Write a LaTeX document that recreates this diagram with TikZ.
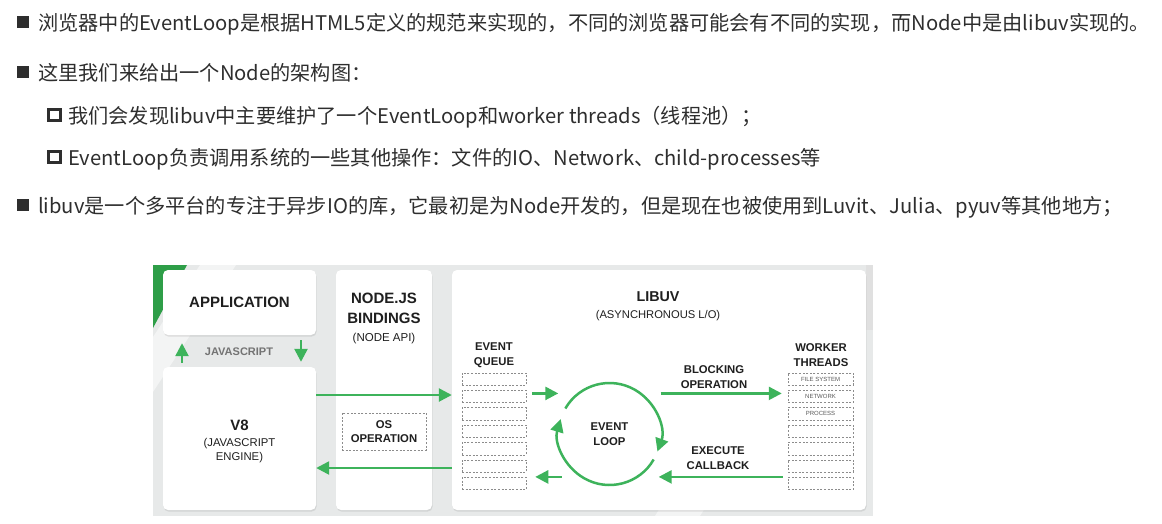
\documentclass[tikz,border=0pt]{standalone}
\usepackage{fontspec}
\setmainfont{Liberation Sans}
\newfontfamily\cjk{Noto Sans CJK SC}
\usetikzlibrary{arrows.meta,positioning,shadows}
\definecolor{lvgreen}{HTML}{3DB35B}
\definecolor{cornergreen}{HTML}{2E9E48}
\definecolor{bggray}{HTML}{E7E9E9}
\definecolor{ink}{HTML}{2E2E2E}

\begin{document}
\begin{tikzpicture}[x=1pt,y=-1pt,
  para/.style={font=\cjk\fontsize{20.2}{24}\selectfont,text=ink,anchor=base west,inner sep=0pt},
  box/.style={fill=white,rounded corners=5pt,drop shadow={shadow xshift=.6pt,shadow yshift=-1.6pt,opacity=.2}},
  slot/.style={draw=black!45,dash pattern=on 2pt off 1.6pt,line width=.5pt,minimum width=64pt,minimum height=12.5pt,inner sep=0pt},
  flow/.style={color=lvgreen,line width=2.5pt,-{Triangle[length=13pt,width=13pt]}},
  big/.style={font=\bfseries\fontsize{15}{20}\selectfont,align=center,inner sep=0pt,text=black!88},
  head/.style={font=\bfseries\fontsize{11.3}{15}\selectfont,align=center,inner sep=0pt,text=black!88},
  note/.style={font=\fontsize{11.3}{14}\selectfont,align=center,inner sep=0pt,text=black!88},
  wlabel/.style={font=\fontsize{6}{7}\selectfont,text=black!65}]
\useasboundingbox (0,0) rectangle (1162,523);

\fill[ink] (17,16) rectangle (29,28);
\fill[ink] (17,66) rectangle (29,78);
\draw[ink,line width=3pt] (48.5,109.5) rectangle (60.5,120.5);
\draw[ink,line width=3pt] (48.5,151.5) rectangle (60.5,162.5);
\fill[ink] (17,199) rectangle (29,211);
\node[para] (l1) at (38,30) {浏览器中的EventLoop是根据HTML5定义的规范来实现的，不同的浏览器可能会有不同的实现，而Node中是由libuv实现的。};
\node[para] (l2) at (38,80) {这里我们来给出一个Node的架构图：};
\node[para] (l3) at (68,123) {我们会发现libuv中主要维护了一个EventLoop和worker threads（线程池）；};
\node[para] (l4) at (68,165) {EventLoop负责调用系统的一些其他操作：文件的IO、Network、child-processes等};
\node[para] (l5) at (38,213) {libuv是一个多平台的专注于异步IO的库，它最初是为Node开发的，但是现在也被使用到Luvit、Julia、pyuv等其他地方；};

\fill[bggray] (153,265) rectangle (873,516);
\fill[white,opacity=.5] (200,265) -- (236,265) -- (153,392) -- (153,337) -- cycle;
\fill[white,opacity=.5] (700,516) -- (655,516) -- (690,460) -- (735,460) -- cycle;
\fill[black!12] (873,265) -- (873,330) -- (866,330) -- (866,265) -- cycle;
\fill[cornergreen] (153,265) -- (187,265) -- (153,328) -- cycle;

\node[box,big,minimum width=153pt,minimum height=65pt] (app) at (239.5,302.5) {APPLICATION};
\node[box,minimum width=153pt,minimum height=143pt] (veight) at (239.5,438.5) {};
\node[box,minimum width=96pt,minimum height=240pt] (bind) at (384,390) {};
\node[box,minimum width=414pt,minimum height=240pt] (libuv) at (659,390) {};

\node[head,text=black!55,font=\bfseries\fontsize{11}{13}\selectfont] (js) at (239,352) {JAVASCRIPT};
\node[big] (v8t) at (239.5,425) {V8};
\node[note,below=8pt of v8t] (v8s) {(JAVASCRIPT\\ENGINE)};
\node[big] (bindt) at (384,308) {NODE.JS\\BINDINGS};
\node[note,font=\fontsize{11.5}{14}\selectfont,below=9pt of bindt] (binds) {(NODE API)};
\node[slot,head,font=\bfseries\fontsize{11.3}{14}\selectfont,minimum width=84pt,minimum height=37pt] (osop) at (384,431.5) {OS\\OPERATION};
\node[big,font=\bfseries\fontsize{14.3}{18}\selectfont] (uvt) at (658,297) {LIBUV};
\node[note,font=\fontsize{11.2}{14}\selectfont,below=8pt of uvt] (uvs) {(ASYNCHRONOUS L/O)};

\node[head] (qt) at (494,355.5) {EVENT\\QUEUE};
\node[head] (wt) at (821,355.5) {WORKER\\THREADS};
\foreach \i in {0,...,6}
  \node[slot] (q\i) at (494,379+17.4*\i) {};
\foreach \i/\t in {0/FILE SYSTEM,1/NETWORK,2/PROCESS,3/,4/,5/,6/}
  \node[slot,wlabel,minimum width=65pt] (w\i) at (820.5,379+17.4*\i) {\t};

\node[head,circle,minimum size=102pt] (loop) at (609.5,434) {EVENT\\LOOP};
\node[head] (blk) at (714,377) {BLOCKING\\OPERATION};
\node[head] (exe) at (718,458) {EXECUTE\\CALLBACK};

\draw[flow] (loop.center) ++(-150:51) arc[start angle=-150,end angle=20,radius=51];
\draw[flow] (loop.center) ++(30:51) arc[start angle=30,end angle=197,radius=51];

\coordinate (jsout) at ([yshift=43.5pt]veight.east);
\coordinate (jsin) at ([yshift=-29.5pt]veight.east);
\coordinate (qi) at ([yshift=3pt]q1.east);
\coordinate (qo) at ([yshift=6.5pt]q6.east);
\coordinate (bo) at ([yshift=3pt]w1.west);
\coordinate (eo) at ([yshift=6.5pt]w6.west);
\path[flow]
  ([xshift=-57.5pt]veight.north) edge[shorten <=4pt,shorten >=8pt] ([xshift=-57.5pt]app.south)
  ([xshift=61.5pt]app.south) edge[shorten <=5pt,shorten >=5pt] ([xshift=61.5pt]veight.north)
  (jsout) edge (jsout -| libuv.west)
  (jsin -| libuv.west) edge (jsin)
  (qi) edge[shorten <=6pt] (qi -| loop.west)
  (qo -| loop.west) edge[shorten <=-3.5pt,shorten >=9pt] (qo)
  (bo -| loop.east) edge[shorten >=6pt] (bo)
  (eo) edge[shorten <=5pt,shorten >=-2pt] (eo -| loop.east);
\end{tikzpicture}
\end{document}
